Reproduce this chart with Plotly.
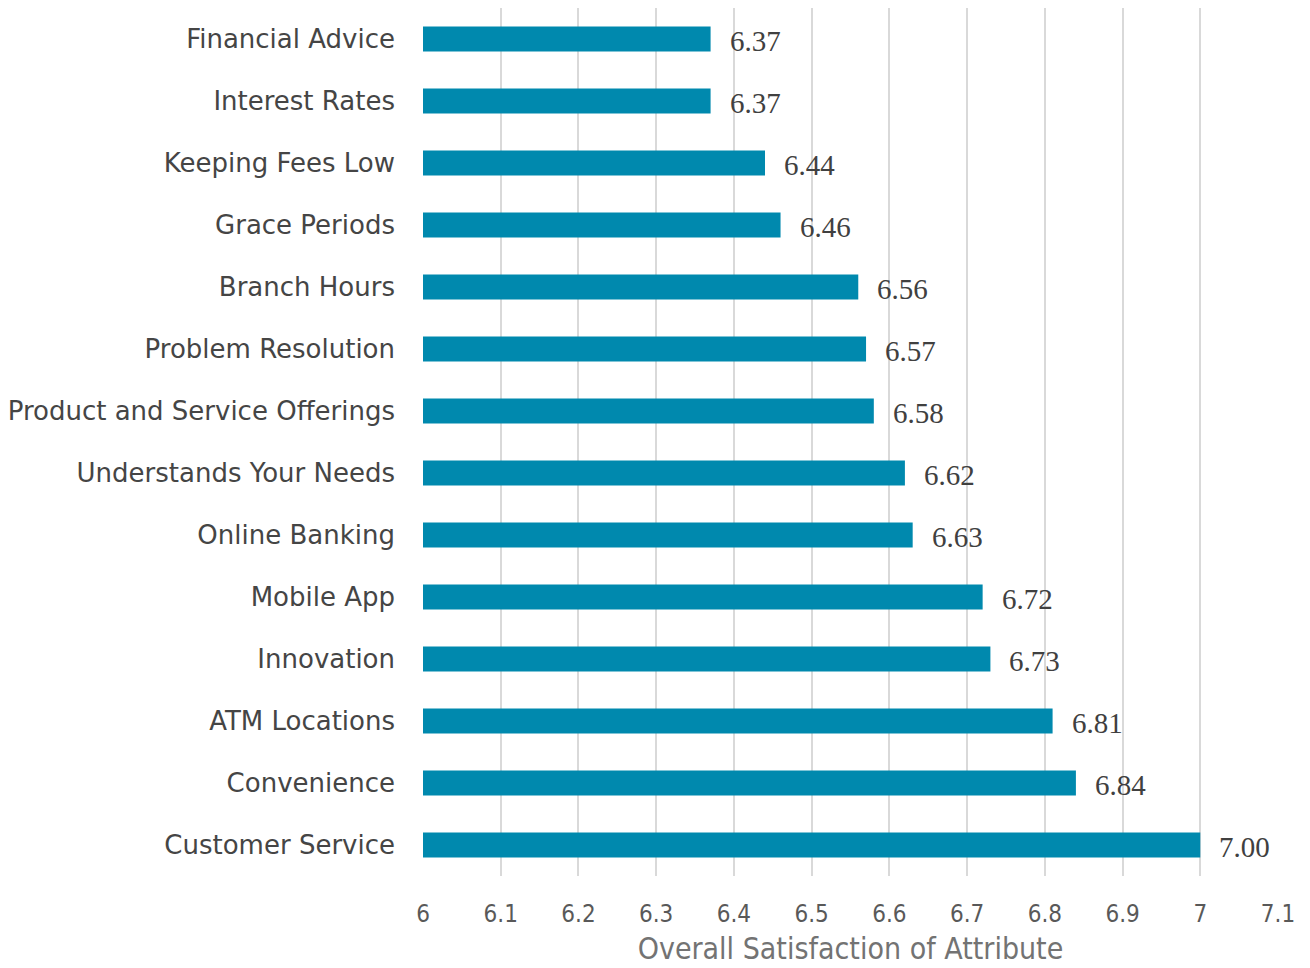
import plotly.graph_objects as go

categories = ["Financial Advice", "Interest Rates", "Keeping Fees Low", "Grace Periods",
              "Branch Hours", "Problem Resolution", "Product and Service Offerings",
              "Understands Your Needs", "Online Banking", "Mobile App", "Innovation",
              "ATM Locations", "Convenience", "Customer Service"]
values = [6.37, 6.37, 6.44, 6.46, 6.56, 6.57, 6.58, 6.62, 6.63, 6.72, 6.73, 6.81, 6.84, 7.00]
axis_base = 6
x_ticks = [6, 6.1, 6.2, 6.3, 6.4, 6.5, 6.6, 6.7, 6.8, 6.9, 7, 7.1]
x_tick_labels = ["6", "6.1", "6.2", "6.3", "6.4", "6.5", "6.6", "6.7", "6.8", "6.9", "7", "7.1"]
x_title = "Overall Satisfaction of Attribute"

fig = go.Figure()
fig.add_trace(go.Bar(
    y=categories, x=[v - axis_base for v in values], base=axis_base, orientation="h",
    marker=dict(color="#0089AE", line=dict(width=0)),
    width=0.4,
))

for c, v in zip(categories, values):
    fig.add_annotation(x=v, y=c, text=f"{v:.2f}", showarrow=False, xanchor="left",
                       xshift=17, yshift=-2,
                       font=dict(family="Liberation Serif", size=29, color="#404040"))

fig.update_layout(
    width=1310, height=968,
    margin=dict(l=412, r=40, t=0, b=100),
    plot_bgcolor="white", paper_bgcolor="white",
    showlegend=False,
)
fig.update_yaxes(
    categoryorder="array", categoryarray=categories, autorange="reversed",
    showgrid=False, showline=False, ticks="",
    ticklabelstandoff=27,
    tickfont=dict(family="DejaVu Sans", size=26, color="#454545"),
)
fig.update_xaxes(
    range=[6, 7.1], tickvals=x_ticks, ticktext=x_tick_labels,
    showgrid=True, gridcolor="#D9D9D9", gridwidth=2,
    zeroline=False, showline=False, ticks="",
    ticklabelstandoff=21,
    tickfont=dict(family="DejaVu Sans Condensed, Roboto", size=24, color="#595959"),
    title=dict(text=x_title, standoff=10,
               font=dict(family="DejaVu Sans Condensed, Roboto", size=30, color="#737373")),
)

fig.write_html("out.html")
